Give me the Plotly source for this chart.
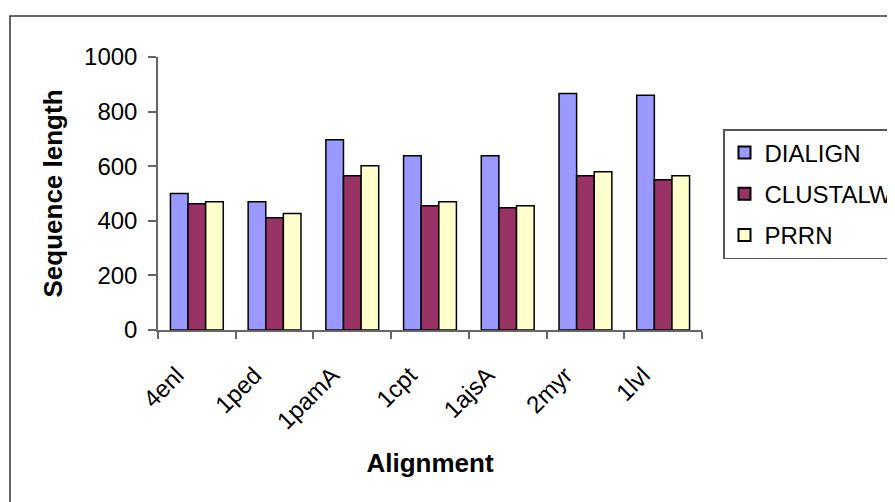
import plotly.graph_objects as go

categories = ["4enl", "1ped", "1pamA", "1cpt", "1ajsA", "2myr", "1lvl"]
dialign = [500, 470, 697, 638, 638, 866, 860]
clustalw = [462, 411, 565, 455, 448, 565, 550]
prrn = [470, 427, 602, 470, 455, 580, 565]

series = [("DIALIGN", dialign, "#9999FF"),
          ("CLUSTALW", clustalw, "#993366"),
          ("PRRN", prrn, "#FFFFCC")]

FONT = "Liberation Sans, Arial, sans-serif"

fig = go.Figure()
for i, (name, vals, col) in enumerate(series):
    fig.add_trace(go.Bar(
        x=categories, y=vals, name=name, legendgroup=name,
        marker=dict(color=col, line=dict(color="black", width=1.5)),
    ))

OFF = 8  # browser body margin
L, R, T, B = 158 - OFF, 702 - OFF, 57 - OFF, 330 - OFF
W, H = 895 - OFF, 502 - OFF
fig.update_layout(
    width=W, height=H,
    margin=dict(l=L, r=W - R, t=T, b=H - B, pad=0, autoexpand=False),
    paper_bgcolor="white", plot_bgcolor="white",
    font=dict(family=FONT, size=24, color="black"),
    barmode="group", bargap=0.32, bargroupgap=0,
    showlegend=True,
    legend=dict(
        x=(723 - OFF - L) / (R - L), y=(B - (129 - OFF)) / (B - T),
        xanchor="left", yanchor="top",
        bordercolor="#555555", borderwidth=1.5,
        font=dict(family=FONT, size=24, color="black"),
        traceorder="grouped", tracegroupgap=7,
        itemsizing="constant",
    ),
    xaxis=dict(
        showline=True, linecolor="#666666", linewidth=1.5,
        ticks="outside", ticklen=7, tickcolor="#666666", tickwidth=1.5,
        tickson="boundaries", tickangle=-45,
        ticklabelstandoff=20, ticklabelshift=-20,
        showgrid=False, zeroline=False, automargin=False,
        title=dict(text="<b>Alignment</b>", font=dict(size=26), standoff=20),
        tickfont=dict(size=24),
    ),
    yaxis=dict(
        range=[0, 1000], dtick=200, tick0=0,
        showline=True, linecolor="#666666", linewidth=1.5,
        ticks="outside", ticklen=8, tickcolor="#666666", tickwidth=1.5,
        ticklabelstandoff=6,
        showgrid=False, zeroline=False, automargin=False,
        title=dict(text="<b>Sequence length</b>", font=dict(size=26), standoff=14),
        tickfont=dict(size=24),
    ),
)

# outer chart border
fig.add_shape(type="rect", xref="paper", yref="paper",
              x0=(10 - OFF - L) / (R - L), x1=(W + 20 - L) / (R - L),
              y0=(B - (H + 20)) / (B - T), y1=(B - (16 - OFF)) / (B - T),
              line=dict(color="#333333", width=1.5), fillcolor="rgba(0,0,0,0)",
              layer="below")

fig.write_html("out.html")
